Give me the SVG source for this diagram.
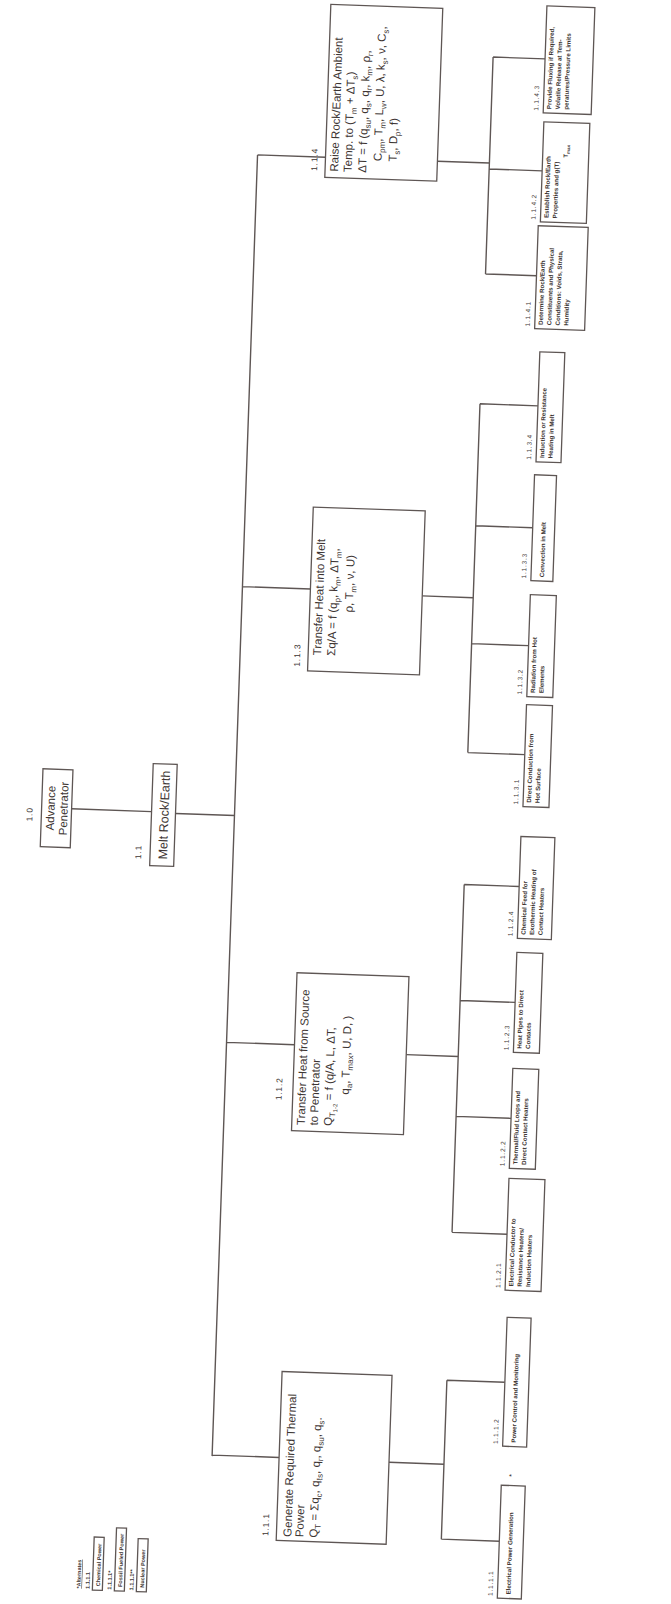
<svg xmlns="http://www.w3.org/2000/svg" width="671" height="1604" viewBox="0 0 671 1604">
<style>
.bx{fill:#fff;stroke:#5e5654;stroke-width:1.3}
.ln{fill:none;stroke:#5e5654;stroke-width:1.4}
text{font-family:"Liberation Sans",Arial,sans-serif;fill:#3d3533}
.t2{font-size:12.5px}
.t3{font-size:11.5px}
.t4{font-size:6.2px;font-weight:bold}
.l3{font-size:8.5px;letter-spacing:0.8px}
.l4{font-size:6.5px;letter-spacing:0.8px}
.sb{font-size:8px}
.lg{font-size:5.5px;font-weight:bold}
</style>
<rect width="671" height="1604" fill="#fff"/>
<g transform="rotate(2 335 802)">
<g id="connectors">
<path class="ln" d="M72 818H152 M176 819H235 M235 158V1460 M235 158H303 M235 590H303 M235 1046H303 M235 1459H302 M415 158H467 M467 52V269 M467 52H519 M467 164H520 M467 269H518 M415 593H466 M466 399V748 M466 399H524 M466 521H523 M466 639H523 M466 748H523 M415 1052H467 M467 880V1228 M467 880H522 M467 996H522 M467 1112H522 M467 1228H522 M412 1460H467 M467 1376V1535 M467 1376H525 M467 1535H525"/>
</g>
<g id="n1_0">
<rect class="bx" x="42" y="779" width="30" height="78"/>
<text class="t3" text-anchor="middle" transform="translate(55 818) rotate(-90)">Advance</text>
<text class="t3" text-anchor="middle" transform="translate(68 818) rotate(-90)">Penetrator</text>
<text class="l3" transform="translate(33 832) rotate(-90)">1.0</text>
</g>
<g id="n1_1">
<rect class="bx" x="152" y="770" width="24" height="102"/>
<text class="t2" text-anchor="middle" transform="translate(169 821) rotate(-90)">Melt Rock/Earth</text>
<text class="l3" transform="translate(143 866) rotate(-90)">1.1</text>
</g>
<g id="n1_1_4">
<rect class="bx" x="303" y="5" width="112" height="173"/>
<text class="t3" transform="translate(316 172) rotate(-90)">Raise Rock/Earth Ambient</text>
<text class="t3" transform="translate(329.5 172) rotate(-90)">Temp. to (T<tspan class="sb" dy="3">m</tspan><tspan dy="-3"> + ΔT</tspan><tspan class="sb" dy="3">s</tspan><tspan dy="-3">)</tspan></text>
<text class="t3" transform="translate(344 172) rotate(-90)">ΔT = f (q<tspan class="sb" dy="3">su</tspan><tspan dy="-3">, q</tspan><tspan class="sb" dy="3">s</tspan><tspan dy="-3">, q</tspan><tspan class="sb" dy="3">r</tspan><tspan dy="-3">, k</tspan><tspan class="sb" dy="3">m</tspan><tspan dy="-3">, ρ</tspan><tspan class="sb" dy="3">r</tspan><tspan dy="-3">,</tspan></text>
<text class="t3" transform="translate(359 160) rotate(-90)">C<tspan class="sb" dy="3">pm</tspan><tspan dy="-3">, T</tspan><tspan class="sb" dy="3">m</tspan><tspan dy="-3">, L</tspan><tspan class="sb" dy="3">w</tspan><tspan dy="-3">, U, λ, k</tspan><tspan class="sb" dy="3">s</tspan><tspan dy="-3">, ν, C</tspan><tspan class="sb" dy="3">s</tspan><tspan dy="-3">,</tspan></text>
<text class="t3" transform="translate(374 160) rotate(-90)">T<tspan class="sb" dy="3">s</tspan><tspan dy="-3">, D</tspan><tspan class="sb" dy="3">p</tspan><tspan dy="-3">, f)</tspan></text>
<text class="l3" transform="translate(295 172) rotate(-90)">1.1.4</text>
</g>
<g id="n1_1_3">
<rect class="bx" x="303" y="508" width="112" height="164"/>
<text class="t3" transform="translate(316 656) rotate(-90)">Transfer Heat into Melt</text>
<text class="t3" transform="translate(330 656) rotate(-90)">Σq/A = f (q<tspan class="sb" dy="3">p</tspan><tspan dy="-3">, k</tspan><tspan class="sb" dy="3">m</tspan><tspan dy="-3">, ΔT</tspan><tspan class="sb" dy="3">m</tspan><tspan dy="-3">,</tspan></text>
<text class="t3" transform="translate(346 612) rotate(-90)">ρ, T<tspan class="sb" dy="3">m</tspan><tspan dy="-3">, ν, U)</tspan></text>
<text class="l3" transform="translate(295 668) rotate(-90)">1.1.3</text>
</g>
<g id="n1_1_2">
<rect class="bx" x="303" y="974" width="112" height="158"/>
<text class="t3" transform="translate(316 1126) rotate(-90)">Transfer Heat from Source</text>
<text class="t3" transform="translate(329 1126) rotate(-90)">to Penetrator</text>
<text class="t3" transform="translate(343 1126) rotate(-90)">Q<tspan class="sb" dy="3">T</tspan><tspan font-size="6" dy="2">1-2</tspan><tspan dy="-5"> = f (q/A, L, ΔT,</tspan></text>
<text class="t3" transform="translate(359 1094) rotate(-90)">q<tspan class="sb" dy="3">a</tspan><tspan dy="-3">, T</tspan><tspan class="sb" dy="3">max</tspan><tspan dy="-3">, U, D, )</tspan></text>
<text class="l3" transform="translate(292 1102) rotate(-90)">1.1.2</text>
</g>
<g id="n1_1_1">
<rect class="bx" x="302" y="1373" width="110" height="169"/>
<text class="t3" transform="translate(317 1538) rotate(-90)">Generate Required Thermal</text>
<text class="t3" transform="translate(329 1538) rotate(-90)">Power</text>
<text class="t3" transform="translate(343 1538) rotate(-90)">Q<tspan class="sb" dy="3">T</tspan><tspan dy="-3"> = Σq</tspan><tspan class="sb" dy="3">c</tspan><tspan dy="-3">, q</tspan><tspan class="sb" dy="3">ℓs</tspan><tspan dy="-3">, q</tspan><tspan class="sb" dy="3">r</tspan><tspan dy="-3">, q</tspan><tspan class="sb" dy="3">su</tspan><tspan dy="-3">, q</tspan><tspan class="sb" dy="3">s</tspan><tspan dy="-3">.</tspan></text>
<text class="l3" transform="translate(294 1538) rotate(-90)">1.1.1</text>
</g>
<g id="n1_1_4_3">
<rect class="bx" x="519" y="-1" width="48" height="107"/>
<text class="t4" transform="translate(527 102) rotate(-90)">Provide Fluxing if Required,</text>
<text class="t4" transform="translate(535.5 102) rotate(-90)">Volatile Release at Tem-</text>
<text class="t4" transform="translate(544 102) rotate(-90)">peratures/Pressure Limits</text>
<text class="l4" transform="translate(514 104) rotate(-90)">1.1.4.3</text>
</g>
<g id="n1_1_4_2">
<rect class="bx" x="520" y="115" width="46" height="100"/>
<text class="t4" transform="translate(528 211) rotate(-90)">Establish Rock/Earth</text>
<text class="t4" transform="translate(536.5 211) rotate(-90)">Properties and g(T)</text>
<text class="t4" transform="translate(545 150) rotate(-90)">T<tspan font-size="4.5" dy="2">max</tspan></text>
<text class="l4" transform="translate(515 213) rotate(-90)">1.1.4.2</text>
</g>
<g id="n1_1_4_1">
<rect class="bx" x="518" y="219" width="50" height="103"/>
<text class="t4" transform="translate(526 318) rotate(-90)">Determine Rock/Earth</text>
<text class="t4" transform="translate(534.5 318) rotate(-90)">Constituents and Physical</text>
<text class="t4" transform="translate(543 318) rotate(-90)">Conditions: Voids, Strata,</text>
<text class="t4" transform="translate(551.5 318) rotate(-90)">Humidity</text>
<text class="l4" transform="translate(513 320) rotate(-90)">1.1.4.1</text>
</g>
<g id="n1_1_3_4">
<rect class="bx" x="524" y="345" width="25" height="110"/>
<text class="t4" transform="translate(532 451) rotate(-90)">Induction or Resistance</text>
<text class="t4" transform="translate(540.5 451) rotate(-90)">Heating in Melt</text>
<text class="l4" transform="translate(519 453) rotate(-90)">1.1.3.4</text>
</g>
<g id="n1_1_3_3">
<rect class="bx" x="523" y="468" width="22" height="106"/>
<text class="t4" transform="translate(536 570) rotate(-90)">Convection in Melt</text>
<text class="l4" transform="translate(518 572) rotate(-90)">1.1.3.3</text>
</g>
<g id="n1_1_3_2">
<rect class="bx" x="523" y="588" width="26" height="102"/>
<text class="t4" transform="translate(531 686) rotate(-90)">Radiation from Hot</text>
<text class="t4" transform="translate(539.5 686) rotate(-90)">Elements</text>
<text class="l4" transform="translate(518 688) rotate(-90)">1.1.3.2</text>
</g>
<g id="n1_1_3_1">
<rect class="bx" x="523" y="698" width="26" height="102"/>
<text class="t4" transform="translate(531 796) rotate(-90)">Direct Conduction from</text>
<text class="t4" transform="translate(539.5 796) rotate(-90)">Hot Surface</text>
<text class="l4" transform="translate(518 798) rotate(-90)">1.1.3.1</text>
</g>
<g id="n1_1_2_4">
<rect class="bx" x="522" y="830" width="34" height="102"/>
<text class="t4" transform="translate(530 928) rotate(-90)">Chemical Feed for</text>
<text class="t4" transform="translate(538.5 928) rotate(-90)">Exothermic Heating of</text>
<text class="t4" transform="translate(547 928) rotate(-90)">Contact Heaters</text>
<text class="l4" transform="translate(517 930) rotate(-90)">1.1.2.4</text>
</g>
<g id="n1_1_2_3">
<rect class="bx" x="522" y="946" width="26" height="100"/>
<text class="t4" transform="translate(530 1042) rotate(-90)">Heat Pipes to Direct</text>
<text class="t4" transform="translate(538.5 1042) rotate(-90)">Contacts</text>
<text class="l4" transform="translate(517 1044) rotate(-90)">1.1.2.3</text>
</g>
<g id="n1_1_2_2">
<rect class="bx" x="522" y="1062" width="26" height="100"/>
<text class="t4" transform="translate(530 1158) rotate(-90)">Thermal/Fluid Loops and</text>
<text class="t4" transform="translate(538.5 1158) rotate(-90)">Direct Contact Heaters</text>
<text class="l4" transform="translate(517 1160) rotate(-90)">1.1.2.2</text>
</g>
<g id="n1_1_2_1">
<rect class="bx" x="522" y="1172" width="36" height="112"/>
<text class="t4" transform="translate(530 1280) rotate(-90)">Electrical Conductor to</text>
<text class="t4" transform="translate(538.5 1280) rotate(-90)">Resistance Heaters/</text>
<text class="t4" transform="translate(547 1280) rotate(-90)">Induction Heaters</text>
<text class="l4" transform="translate(517 1282) rotate(-90)">1.1.2.1</text>
</g>
<g id="n1_1_1_2">
<rect class="bx" x="525" y="1311" width="24" height="129"/>
<text class="t4" transform="translate(538 1436) rotate(-90)">Power Control and Monitoring</text>
<text class="l4" transform="translate(520 1438) rotate(-90)">1.1.1.2</text>
</g>
<g id="n1_1_1_1">
<rect class="bx" x="525" y="1479" width="24" height="113"/>
<text class="t4" transform="translate(538 1588) rotate(-90)">Electrical Power Generation</text>
<text class="t4" transform="translate(537 1470) rotate(-90)">*</text>
<text class="l4" transform="translate(520 1590) rotate(-90)">1.1.1.1</text>
</g>
<g id="legend">
<text class="lg" text-decoration="underline" transform="translate(108 1597) rotate(-90)">*Alternates</text>
<text class="lg" transform="translate(117 1597) rotate(-90)">1.1.1.1</text>
<rect class="bx" x="120" y="1545" width="10" height="53"/>
<text class="lg" transform="translate(127.5 1594) rotate(-90)">Chemical Power</text>
<text class="lg" transform="translate(139 1597) rotate(-90)">1.1.1.1*</text>
<rect class="bx" x="142" y="1535" width="10" height="63"/>
<text class="lg" transform="translate(149.5 1594) rotate(-90)">Fossil Fueled Power</text>
<text class="lg" transform="translate(161 1597) rotate(-90)">1.1.1.1**</text>
<rect class="bx" x="164" y="1545" width="10" height="53"/>
<text class="lg" transform="translate(171.5 1594) rotate(-90)">Nuclear Power</text>
</g>
</g>
</svg>
